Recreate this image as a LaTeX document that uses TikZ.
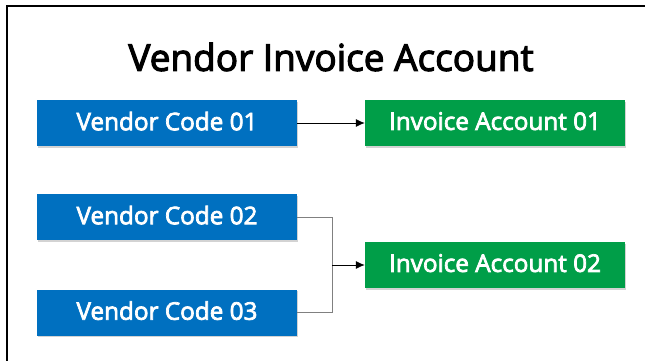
\documentclass[tikz,border=0pt]{standalone}
\usepackage{fontspec}
\setmainfont{Open Sans}
\newfontfamily\semibold[FakeBold=3]{Open Sans}
\usetikzlibrary{arrows.meta,shadows}
\definecolor{vendorblue}{HTML}{0070C0}
\definecolor{accgreen}{HTML}{009E48}
\definecolor{linkgray}{HTML}{808080}
\tikzset{
  codebox/.style={rectangle, minimum width=260pt, minimum height=46pt, inner sep=0pt,
    text depth=4pt, text=white, font=\semibold\fontsize{24.3}{28}\selectfont,
    drop shadow={shadow xshift=1pt, shadow yshift=-1.5pt, opacity=0.35}},
  vendor/.style={codebox, fill=vendorblue},
  account/.style={codebox, fill=accgreen},
  link/.style={draw=linkgray, line width=1pt},
  arrowlink/.style={draw=black, line width=0.8pt, -{Latex[length=9pt,width=8pt]}}
}
\begin{document}
\begin{tikzpicture}[x=1pt, y=-1pt]
    \useasboundingbox (0,0) rectangle (645,360);
    % Frame (only top and left edges are visible)
    \draw[line width=2pt] (7,362) -- (7,6) -- (647,6);

    % Title
    \node (title) at (331,57) {\semibold\fontsize{37}{42}\selectfont Vendor Invoice Account};

    % Vendor codes
    \node[vendor] (v1) at (167,123) {Vendor Code 01};
    \node[vendor] (v2) at (167,217) {Vendor Code 02};
    \node[vendor] (v3) at (167,312.5) {Vendor Code 03};

    % Invoice accounts
    \node[account] (ia1) at (495,123) {Invoice Account 01};
    \node[account] (ia2) at (495,265) {Invoice Account 02};

    % Connectors
    \draw[arrowlink] (v1) -- (ia1);
    \coordinate (j) at (332,265);
    \draw[link] (v2.east) -| (j);
    \draw[link] (v3.east) -| (j);
    \draw[arrowlink] (j) -- (ia2.west);
\end{tikzpicture}
\end{document}
